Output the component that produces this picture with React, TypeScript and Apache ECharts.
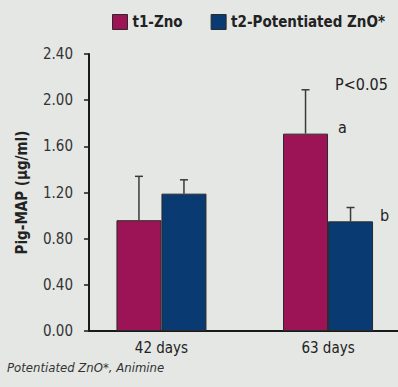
import React, { useEffect, useRef } from "react";
import * as echarts from "echarts";

const categories = ["42 days", "63 days"];
const seriesNames = ["t1-Zno", "t2-Potentiated ZnO*"];
const t1Values = [0.96, 1.71];
const t2Values = [1.19, 0.95];
const t1Errors = [0.38, 0.38];
const t2Errors = [0.12, 0.12];
const t1Letters = ["", "a"];
const t2Letters = ["", "b"];
const yTicks = [0, 0.4, 0.8, 1.2, 1.6, 2.0, 2.4];

const FONT = "'DejaVu Sans Condensed', 'Liberation Sans Narrow', sans-serif";
const BG = "#e4e7e4";
const C1 = "#9c1456";
const C2 = "#0a3a72";
const BAR_W = 45;

export default function App() {
  const ref = useRef<HTMLDivElement>(null);
  useEffect(() => {
    const chart = echarts.init(ref.current!, null, { renderer: "svg" });
    const catIdx = categories.map((_, i) => i);
    const errSeries = (vals: number[], errs: number[], side: number) => ({
      type: "custom",
      z: 1,
      silent: true,
      data: vals.map((v, i) => [catIdx[i], v, v + errs[i]]),
      renderItem: (params: any, api: any) => {
        const base = api.coord([api.value(0), api.value(1)]);
        const top = api.coord([api.value(0), api.value(2)]);
        const x = base[0] + side * (BAR_W / 2);
        const st = { stroke: "#3a3a3a", lineWidth: 1.5 };
        return {
          type: "group",
          children: [
            { type: "line", shape: { x1: x, y1: base[1], x2: x, y2: top[1] }, style: st },
            { type: "line", shape: { x1: x - 4, y1: top[1], x2: x + 4, y2: top[1] }, style: st },
          ],
        };
      },
    });
    const labelFor = (letter: string, dx: number) =>
      letter
        ? {
            show: true,
            formatter: letter,
            position: [dx, -6],
            align: "left",
            verticalAlign: "middle",
            fontFamily: FONT,
            fontSize: 16,
            color: "#222",
          }
        : { show: false };
    chart.setOption({
      animation: false,
      backgroundColor: BG,
      textStyle: { fontFamily: FONT },
      legend: {
        top: 9,
        left: 107,
        width: 300,
        orient: "horizontal",
        icon: "rect",
        itemWidth: 15,
        itemHeight: 15,
        itemGap: 28,
        data: seriesNames,
        itemStyle: { borderColor: "#2a2a2a", borderWidth: 1 },
        textStyle: { fontFamily: FONT, fontSize: 15, fontWeight: "bold", color: "#222" },
      },
      grid: { left: 89, right: 0, top: 54, bottom: 56 },
      xAxis: {
        type: "value",
        min: -0.435,
        max: 1.42,
        axisLine: { show: true, onZero: false, lineStyle: { color: "#1a1a1a", width: 2 } },
        axisTick: { show: false },
        splitLine: { show: false },
        axisLabel: {
          customValues: catIdx,
          fontFamily: FONT,
          fontSize: 15,
          color: "#222",
          margin: 9,
          formatter: (v: number) => categories[Math.round(v)] ?? "",
        },
      },
      yAxis: {
        type: "value",
        min: 0,
        max: 2.4,
        interval: 0.4,
        name: "Pig-MAP (µg/ml)",
        nameLocation: "middle",
        nameGap: 60,
        nameTextStyle: { fontFamily: FONT, fontSize: 15, fontWeight: "bold", color: "#222" },
        axisLine: { show: true, onZero: false, lineStyle: { color: "#1a1a1a", width: 2 } },
        axisTick: { show: true, length: 5, lineStyle: { color: "#1a1a1a", width: 1.5 } },
        splitLine: { show: false },
        axisLabel: {
          fontFamily: FONT,
          fontSize: 15,
          color: "#333",
          margin: 16,
          formatter: (v: number) => (yTicks.indexOf(Math.round(v * 10) / 10) >= 0 ? v.toFixed(2) : ""),
        },
      },
      series: [
        {
          name: seriesNames[0],
          type: "bar",
          barWidth: BAR_W,
          barGap: "0%",
          z: 2,
          itemStyle: { color: C1, borderColor: "#2a2a2a", borderWidth: 1 },
          data: t1Values.map((v, i) => ({ value: [catIdx[i], v], label: labelFor(t1Letters[i], 55) })),
        },
        {
          name: seriesNames[1],
          type: "bar",
          barWidth: BAR_W,
          barGap: "0%",
          z: 2,
          itemStyle: { color: C2, borderColor: "#2a2a2a", borderWidth: 1 },
          data: t2Values.map((v, i) => ({ value: [catIdx[i], v], label: labelFor(t2Letters[i], 52) })),
        },
        errSeries(t1Values, t1Errors, -1),
        errSeries(t2Values, t2Errors, 1),
      ],
      graphic: [
        {
          type: "text",
          left: 335,
          top: 76,
          style: { text: "P<0.05", fontFamily: FONT, fontSize: 16, fill: "#222" },
        },
        {
          type: "text",
          left: 7,
          top: 361,
          style: { text: "Potentiated ZnO*, Animine", fontFamily: FONT, fontSize: 13, fontStyle: "italic", fill: "#333" },
        },
      ],
    });
    return () => chart.dispose();
  }, []);
  return <div ref={ref} style={{ width: 398, height: 387, position: "absolute", left: 0, top: 0 }} />;
}
